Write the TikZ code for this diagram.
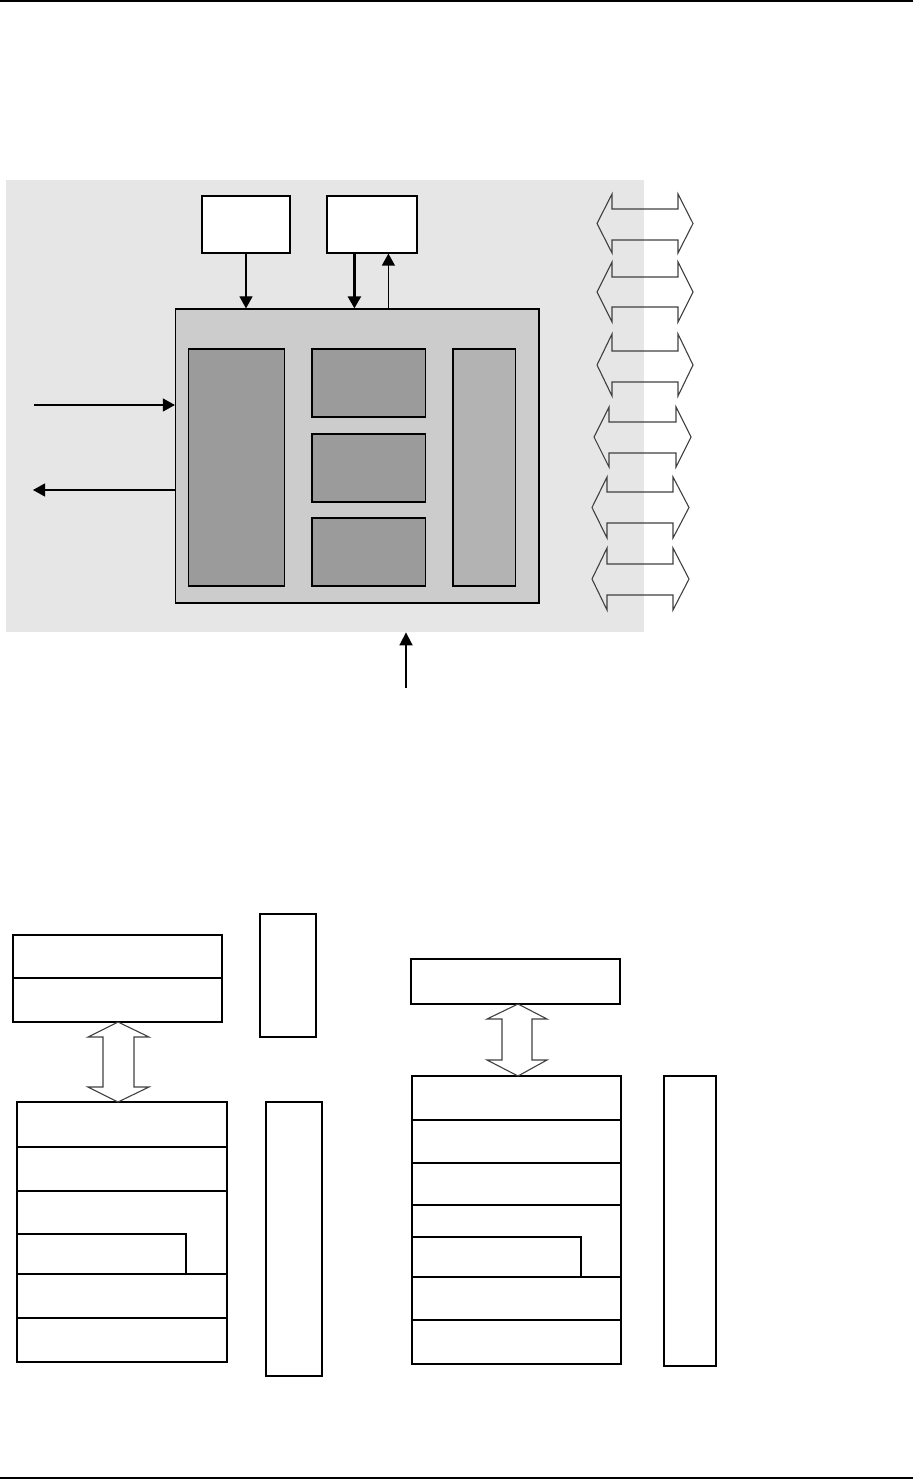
\documentclass[tikz,border=0pt]{standalone}
\usetikzlibrary{fit,arrows.meta}
\definecolor{bgGray}{HTML}{E6E6E6}
\definecolor{mainGray}{HTML}{CCCCCC}
\definecolor{darkGray}{HTML}{9B9B9B}
\definecolor{midGray}{HTML}{B3B3B3}
\definecolor{blockLine}{HTML}{404040}
\begin{document}
\begin{tikzpicture}[x=0.5pt,y=-0.5pt,
  box/.style={draw=black, line width=0.6pt, inner sep=0pt, fill=white},
  bgbox/.style={draw=none, inner sep=0pt, fill=bgGray},
  mainbox/.style={box, fill=mainGray},
  darkbox/.style={box, fill=darkGray},
  midbox/.style={box, fill=midGray},
  arr/.style={line width=0.6pt, -{Triangle[length=6pt,width=6.5pt]}},
  arrthick/.style={line width=1.2pt, -{Triangle[length=6pt,width=6.5pt]}},
  arrmid/.style={line width=0.9pt, -{Triangle[length=6.5pt,width=6.5pt]}},
  blockarrow/.style={draw=blockLine, line width=0.55pt, line join=miter},
  rule/.style={line width=0.8pt}]
\useasboundingbox (0,0) rectangle (913,1481);

% page rules
\draw[rule] (0,1) -- (913,1);
\draw[rule] (0,1478) -- (913,1478);

% ---------- upper diagram ----------
\node[bgbox, fit={(6,180) (644,632)}] (BG) {};
\node[box, fit={(202,196) (290,253)}] (A) {};
\node[box, fit={(327,196) (417,253)}] (B) {};
\node[mainbox, fit={(175.5,309) (539,603)}] (M) {};
\node[darkbox, fit={(188.5,349) (284.5,586)}] (L1) {};
\node[darkbox, fit={(312,349) (425.5,417)}] (C1) {};
\node[darkbox, fit={(312,434) (425.5,502)}] (C2) {};
\node[darkbox, fit={(312,518) (425.5,586)}] (C3) {};
\node[midbox, fit={(453,349) (515.5,586)}] (R1) {};

\draw[arr] (A.south) -- (A.south |- M.north);
\draw[arrthick] ([xshift=14pt]B.south west) -- ([xshift=14pt]B.south west |- M.north);
\draw[arr] ([xshift=31pt]B.south west |- M.north) -- ([xshift=31pt]B.south west);

\coordinate (inL) at (34,405);
\coordinate (outL) at (33,490);
\coordinate (botS) at (406,688);
\draw[arr] (inL) -- (inL -| M.west);
\draw[arr] (outL -| M.west) -- (outL);
\draw[arrmid] (botS) -- (botS |- BG.south);

% horizontal double block arrows (xl, xs1, xs2, xr, head top, shaft top, shaft bottom, head bottom)
\foreach \xl/\xa/\xb/\xr/\ht/\st/\sb/\hb in {
  597/612/678/693/194/209/240/253,
  597/612/678/693/262/277/307/322,
  597/612/678/693/334/351/382/396,
  594/609/676/691/407/422/453/467,
  592/607/673/689/477/492/523/538,
  592/607/673/689/548/564/595/610}{
  \draw[blockarrow] (\xl,{(\ht+\hb)/2}) -- (\xa,\ht) -- (\xa,\st) -- (\xb,\st) -- (\xb,\ht)
    -- (\xr,{(\ht+\hb)/2}) -- (\xb,\hb) -- (\xb,\sb) -- (\xa,\sb) -- (\xa,\hb) -- cycle;
}

% ---------- lower left diagram ----------
\node[box, fit={(13,935) (222,978)}] (LT1) {};
\node[box, fit={(13,978) (222,1022)}] (LT2) {};
\node[box, fit={(260,914) (316,1037)}] (LS1) {};

\node[box, fit={(17,1102) (227,1147)}] (LB1) {};
\node[box, fit={(17,1147) (227,1191)}] (LB2) {};
\node[box, fit={(17,1191) (227,1274)}] (LB3) {};
\node[box, fit={(17,1234) (186,1274)}] (LB3i) {};
\node[box, fit={(17,1274) (227,1318)}] (LB4) {};
\node[box, fit={(17,1318) (227,1362)}] (LB5) {};
\node[box, fit={(266,1102) (322,1376)}] (LS2) {};

\draw[blockarrow] (118,1022) -- (149,1037) -- (134,1037) -- (134,1087) -- (149,1087)
  -- (118,1102) -- (88,1087) -- (103,1087) -- (103,1037) -- (88,1037) -- cycle;

% ---------- lower right diagram ----------
\node[box, fit={(411,959) (620,1004)}] (RT1) {};

\node[box, fit={(412,1076) (621,1120)}] (RB1) {};
\node[box, fit={(412,1120) (621,1163)}] (RB2) {};
\node[box, fit={(412,1163) (621,1205)}] (RB3) {};
\node[box, fit={(412,1205) (621,1277)}] (RB4) {};
\node[box, fit={(412,1237) (581,1277)}] (RB4i) {};
\node[box, fit={(412,1277) (621,1320)}] (RB5) {};
\node[box, fit={(412,1320) (621,1364)}] (RB6) {};
\node[box, fit={(664,1076) (716,1366)}] (RS1) {};

\draw[blockarrow] (518,1004) -- (547,1019) -- (532,1019) -- (532,1060) -- (547,1060)
  -- (518,1076) -- (487,1060) -- (502,1060) -- (502,1019) -- (487,1019) -- cycle;
\end{tikzpicture}
\end{document}
